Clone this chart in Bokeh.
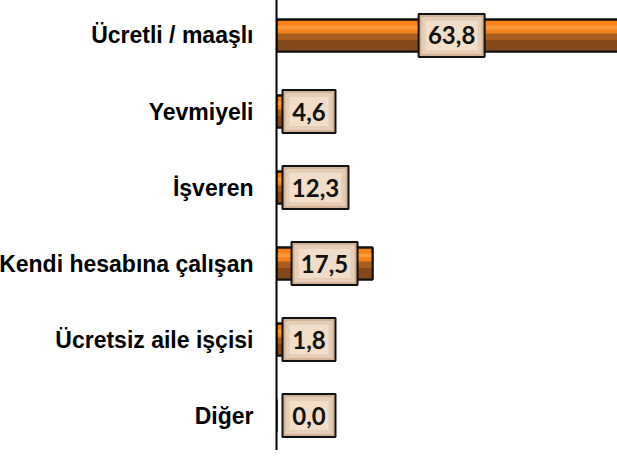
from bokeh.plotting import figure
from bokeh.models import ColumnDataSource, FixedTicker
from bokeh.transform import dodge
from bokeh.core.properties import value
from bokeh.embed import file_html
from bokeh.resources import INLINE

categories = ["Ücretli / maaşlı", "Yevmiyeli", "İşveren",
              "Kendi hesabına çalışan", "Ücretsiz aile işçisi", "Diğer"]
values = [63.8, 4.6, 12.3, 17.5, 1.8, 0.0]
labels = ["63,8", "4,6", "12,3", "17,5", "1,8", "0,0"]

n = len(categories)
ypos = [n - 1 - i for i in range(n)]

FRAME_W = 342
FRAME_H = 454
X_END = 62.3
Y_START, Y_END = -0.46, 5.513
PPU = FRAME_W / X_END
PPY = FRAME_H / (Y_END - Y_START)

box_w = [53 if len(s) <= 3 else 66 for s in labels]
box_h = 43
box_x = [max(v / 2, (6 + w / 2) / PPU) for v, w in zip(values, box_w)]

src = ColumnDataSource(dict(y=ypos, v=values, lab=labels, bx=box_x,
                            bw=box_w, bw2=[w - 6 for w in box_w],
                            bw3=[w - 14 for w in box_w]))

p = figure(frame_width=FRAME_W, frame_height=FRAME_H,
           x_range=(0, X_END), y_range=(Y_START, Y_END),
           output_backend="svg", toolbar_location=None,
           min_border_left=275, min_border_right=0,
           min_border_top=0, min_border_bottom=0)
p.styles = {"margin-left": "-4px", "margin-top": "-4px"}
p.outline_line_color = None
p.xgrid.visible = False
p.ygrid.visible = False
p.xaxis.visible = False

BAR_H = 32 / PPY


def band(top_px, bot_px):
    c = (top_px + bot_px) / 2.0
    return -c / PPY, (bot_px - top_px) / PPY


# base bar
p.hbar(y="y", right="v", left=0, height=BAR_H, source=src,
       fill_color="#F98216", line_color="#111111", line_width=2)
for top, bot, col in [(-10, -6, "#FC9A38"), (-6, -2, "#F3831E"),
                      (-2, 4, "#A85C1D"), (4, 15, "#84481A")]:
    off, hh = band(top, bot)
    p.hbar(y=dodge("y", off, range=p.y_range), right="v", left=0,
           height=hh, source=src, fill_color=col, line_color=None)
p.hbar(y="y", right="v", left=0, height=BAR_H, source=src,
       fill_color=None, line_color="#111111", line_width=2)

# label boxes
p.rect(x="bx", y="y", width="bw", height=box_h, width_units="screen",
       height_units="screen", source=src, fill_color="#D2B396",
       line_color="#111111", line_width=2)
p.rect(x="bx", y="y", width="bw2", height=box_h - 6, width_units="screen",
       height_units="screen", source=src, fill_color="#E6CDB5",
       line_color=None)
p.rect(x="bx", y="y", width="bw3", height=box_h - 14, width_units="screen",
       height_units="screen", source=src, fill_color="#F2DDC9",
       line_color=None)
p.text(x="bx", y="y", text="lab", source=src, text_align="center",
       text_baseline="middle", text_font=value("Lato"),
       text_font_style="bold", text_font_size="24px", text_color="#111111")

ax = p.yaxis[0]
ax.ticker = FixedTicker(ticks=ypos)
ax.major_label_overrides = {y: c for y, c in zip(ypos, categories)}
ax.major_label_text_font = "Liberation Sans"
ax.major_label_text_font_style = "bold"
ax.major_label_text_font_size = "23px"
ax.major_label_text_color = "#000000"
ax.major_label_standoff = 23
ax.major_tick_line_color = None
ax.major_tick_out = 0
ax.major_tick_in = 0
ax.minor_tick_line_color = None
ax.axis_line_color = "#000000"
ax.axis_line_width = 2

open("out.html", "w").write(file_html(p, INLINE))
